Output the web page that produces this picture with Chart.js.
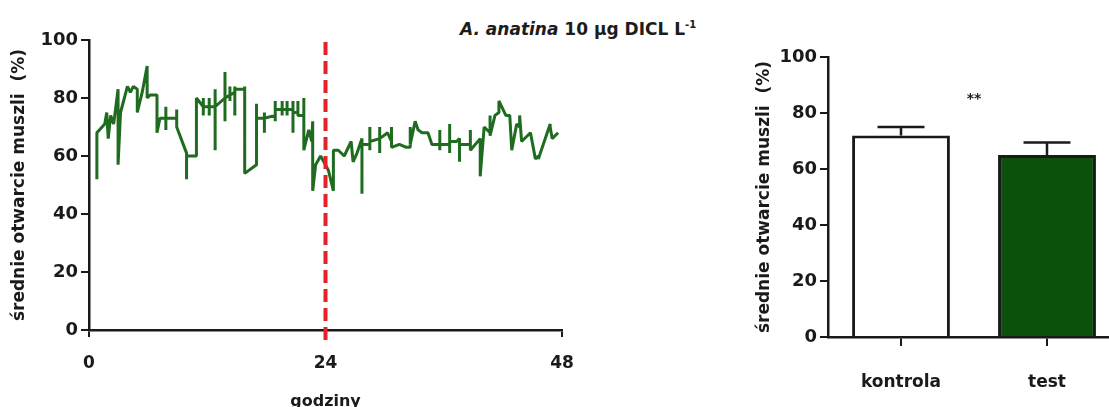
<!DOCTYPE html>
<html lang="pl">
<head>
<meta charset="utf-8">
<title>Otwarcie muszli – A. anatina</title>
<script src="https://cdn.jsdelivr.net/npm/chart.js@4"></script>
<style>
  html, body { margin: 0; padding: 0; background: #fff; width: 1109px; height: 407px; overflow: hidden; }
  #wykresCzasowy { position: absolute; left: 0; top: 0; }
  #wykresSlupkowy { position: absolute; left: 745px; top: 0; }
  #tytul {
    position: absolute; left: 460px; top: 19px;
    font: bold 17px "DejaVu Sans", sans-serif; color: #1c1c1c; white-space: nowrap;
  }
  #tytul sup { font-size: 10px; line-height: 0; }
</style>
</head>
<body>
<div id="tytul"><i>A. anatina</i> 10 μg DICL L<sup>-1</sup></div>
<canvas id="wykresCzasowy" width="600" height="407"></canvas>
<canvas id="wykresSlupkowy" width="375" height="407"></canvas>

<script>
// przebieg w czasie: godzina pomiaru i średnie otwarcie (%)
const godziny = [
  0.8, 0.8, 1.6, 1.8, 1.95, 2.2, 2.5, 2.95, 2.95, 3.2, 3.9, 4.2, 4.5, 4.9, 4.9, 5.4,
  5.9, 5.9, 6.2, 6.9, 6.9, 7.2, 7.8, 7.8, 7.8, 7.8, 8.9, 8.9, 8.9, 9.9, 9.9, 9.9,
  10.9, 10.9, 11.6, 11.6, 11.6, 11.6, 12.2, 12.2, 12.2, 12.2, 12.8, 12.8, 12.8, 12.8,
  13.8, 13.8, 13.8, 13.8, 14.3, 14.3, 14.3, 14.3, 14.8, 14.8, 14.8, 14.8, 15.8, 15.8, 15.8,
  17.0, 17.0, 17.0, 17.8, 17.8, 17.8, 17.8, 18.9, 18.9, 18.9, 18.9, 19.6, 19.6, 19.6, 19.6,
  20.1, 20.1, 20.1, 20.1, 20.7, 20.7, 20.7, 20.7, 21.2, 21.2, 21.2, 21.8, 21.8, 21.8,
  22.3, 22.6, 22.7, 22.7, 23.0, 23.5, 24.0, 24.3, 24.8, 24.8, 25.3, 25.9, 26.6, 26.8, 27.2,
  27.7, 27.7, 27.7, 28.5, 28.5, 28.5, 28.5, 29.5, 29.5, 29.5, 29.5, 30.3, 30.7, 30.7, 30.7,
  31.5, 32.2, 32.6, 32.6, 32.6, 33.1, 33.4, 33.8, 34.4, 34.8, 35.6, 35.6, 35.6, 35.6,
  36.6, 36.6, 36.6, 36.6, 37.3, 37.6, 37.6, 37.6, 38.3, 38.7, 38.7, 38.7, 39.7, 39.7,
  40.1, 40.7, 40.7, 40.7, 41.2, 41.6, 41.6, 41.6, 42.3, 42.7, 42.7, 42.9, 43.4, 43.7, 43.7, 43.7,
  43.9, 44.8, 44.8, 45.3, 45.6, 45.6, 46.8, 46.8, 47.0, 47.6, 47.6
];
const otwarcie = [
  52, 68, 71, 75, 66, 74, 71, 83, 57, 75, 84, 82, 84, 83, 75, 82,
  91, 80, 81, 81, 68, 73, 73, 77, 69, 73, 73, 76, 70, 61, 52, 60,
  60, 80, 77, 80, 74, 77, 77, 80, 74, 77, 77, 83, 62, 77,
  80, 89, 72, 80, 81, 84, 79, 81, 82, 84, 74, 83, 83, 84, 54,
  57, 78, 73, 73, 75, 68, 73, 74, 79, 72, 76, 76, 79, 74, 76,
  76, 79, 74, 76, 76, 79, 68, 75, 75, 79, 74, 74, 80, 62,
  69, 65, 72, 48, 57, 60, 57, 55, 48, 62, 62, 60, 65, 58, 61,
  66, 47, 64, 64, 70, 62, 65, 66, 70, 61, 66, 68, 65, 70, 63,
  64, 63, 63, 70, 64, 72, 69, 68, 68, 64, 64, 69, 62, 64,
  64, 71, 61, 65, 65, 66, 58, 64, 64, 64, 69, 62, 66, 53,
  70, 68, 74, 67, 74, 75, 75, 79, 74, 74, 74, 62, 71, 70, 70, 74, 65,
  68, 68, 59, 60, 59, 71, 70, 66, 68, 68, 35
];
const tickiGodzin = [0, 24, 48];
const tickiProcent = [0, 20, 40, 60, 80, 100];
const poczatekTestu = 24;

// średnie dla grup z błędem standardowym
const grupy = ['kontrola', 'test'];
const srednie = [72, 65];
const bledy = [3, 4.5];
const istotnosc = '**';

const CZCIONKA = '"DejaVu Sans", sans-serif';
const CZARNY = '#1a1a1a';
const ZIELONY_LINIA = '#1f6b1f';
const ZIELONY_SLUPEK = '#0b510b';

Chart.defaults.font.family = CZCIONKA;
Chart.defaults.color = CZARNY;

// przerywana linia oznaczająca dodanie DICL
const liniaPodzialu = {
  id: 'liniaPodzialu',
  afterDatasetsDraw(chart) {
    const { ctx, chartArea, scales } = chart;
    const x = scales.x.getPixelForValue(poczatekTestu);
    ctx.save();
    ctx.strokeStyle = '#e8202a';
    ctx.lineWidth = 4;
    ctx.setLineDash([13, 6]);
    ctx.beginPath();
    ctx.moveTo(x, chartArea.top + 2);
    ctx.lineTo(x, chartArea.bottom + 12);
    ctx.stroke();
    ctx.restore();
  }
};

// słupki błędów (tylko w górę) i oznaczenie istotności
const slupkiBledow = {
  id: 'slupkiBledow',
  afterDatasetsDraw(chart) {
    const { ctx, scales } = chart;
    const slupki = chart.getDatasetMeta(0).data;
    ctx.save();
    ctx.strokeStyle = CZARNY;
    ctx.lineWidth = 2.5;
    slupki.forEach((s, i) => {
      const yGora = scales.y.getPixelForValue(srednie[i] + bledy[i]);
      const pol = s.width * 0.24;
      ctx.beginPath();
      ctx.moveTo(s.x, s.y);
      ctx.lineTo(s.x, yGora);
      ctx.moveTo(s.x - pol, yGora);
      ctx.lineTo(s.x + pol, yGora);
      ctx.stroke();
    });
    ctx.fillStyle = CZARNY;
    ctx.font = 'bold 14px ' + CZCIONKA;
    ctx.textAlign = 'center';
    ctx.textBaseline = 'middle';
    ctx.fillText(istotnosc, (slupki[0].x + slupki[1].x) / 2, scales.y.getPixelForValue(85));
    ctx.restore();
  }
};

function osPionowa(szerokosc, tytulPadding) {
  return {
    min: 0, max: 100,
    afterBuildTicks: s => { s.ticks = tickiProcent.map(v => ({ value: v })); },
    afterFit: s => { s.width = szerokosc; },
    grid: { drawOnChartArea: false, drawTicks: true, tickLength: 8, color: CZARNY, lineWidth: 2 },
    border: { display: true, color: CZARNY, width: 2.5 },
    ticks: { font: { size: 18, weight: 'bold' }, padding: 3, color: CZARNY },
    title: {
      display: true, text: 'średnie otwarcie muszli  (%)',
      font: { size: 17, weight: 'bold' }, color: CZARNY,
      padding: { top: tytulPadding, bottom: 0 }
    }
  };
}

new Chart(document.getElementById('wykresCzasowy'), {
  type: 'line',
  data: {
    datasets: [{
      data: godziny.map((h, i) => ({ x: h, y: otwarcie[i] })),
      borderColor: ZIELONY_LINIA,
      borderWidth: 3,
      borderJoinStyle: 'bevel',
      pointRadius: 0,
      tension: 0,
      fill: false
    }]
  },
  options: {
    responsive: false,
    devicePixelRatio: 1,
    animation: false,
    layout: { padding: { top: 40, right: 38, left: 0, bottom: 0 } },
    plugins: { legend: { display: false }, tooltip: { enabled: false } },
    scales: {
      x: {
        type: 'linear', min: 0, max: 48,
        afterBuildTicks: s => { s.ticks = tickiGodzin.map(v => ({ value: v })); },
        afterFit: s => { s.height = 77; },
        grid: { drawOnChartArea: false, drawTicks: true, tickLength: 7, color: CZARNY, lineWidth: 2 },
        border: { display: true, color: CZARNY, width: 2.5 },
        ticks: { font: { size: 17, weight: 'bold' }, padding: 16, maxRotation: 0, color: CZARNY },
        title: {
          display: true, text: 'godziny',
          font: { size: 16, weight: 'bold' }, color: CZARNY,
          padding: { top: 0, bottom: -4 }
        }
      },
      y: osPionowa(89, 9)
    }
  },
  plugins: [liniaPodzialu]
});

new Chart(document.getElementById('wykresSlupkowy'), {
  type: 'bar',
  data: {
    labels: grupy,
    datasets: [{
      data: srednie,
      backgroundColor: ['#ffffff', ZIELONY_SLUPEK],
      borderColor: CZARNY,
      borderWidth: 3,
      barPercentage: 0.67,
      categoryPercentage: 1
    }]
  },
  options: {
    responsive: false,
    devicePixelRatio: 1,
    animation: false,
    layout: { padding: { top: 57, right: 0, left: 0, bottom: 0 } },
    plugins: { legend: { display: false }, tooltip: { enabled: false } },
    scales: {
      x: {
        afterFit: s => { s.height = 70; },
        grid: { offset: false, drawOnChartArea: false, drawTicks: true, tickLength: 9, color: CZARNY, lineWidth: 2 },
        border: { display: true, color: CZARNY, width: 2.5 },
        ticks: { font: { size: 17, weight: 'bold' }, padding: 26, color: CZARNY }
      },
      y: osPionowa(83, 9)
    }
  },
  plugins: [slupkiBledow]
});
</script>
</body>
</html>
